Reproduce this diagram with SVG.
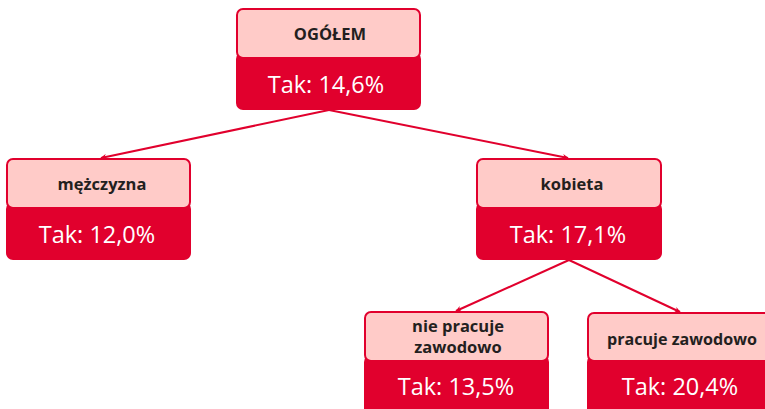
<svg xmlns="http://www.w3.org/2000/svg" width="765" height="409" viewBox="0 0 765 409">
  <style>
    .hd { fill: #ffcbc8; stroke: #e1002d; stroke-width: 2; }
    .val { fill: #e1002d; }
    .lbl { font-family: "Open Sans", "Liberation Sans", sans-serif; font-weight: bold; font-size: 16.5px; fill: #231f20; text-anchor: middle; }
    .pct { font-family: "Open Sans", "Liberation Sans", sans-serif; font-size: 23.5px; fill: #ffffff; text-anchor: middle; }
    .edge { stroke: #e1002d; stroke-width: 2; fill: none; marker-end: url(#arr); }
  </style>
  <defs>
    <marker id="arr" viewBox="0 0 10 10" refX="9" refY="5" markerWidth="6" markerHeight="6" orient="auto" markerUnits="userSpaceOnUse">
      <path d="M0,0 L10,5 L0,10 L3,5 Z" fill="#e1002d"/>
    </marker>
  </defs>

  <g id="connectors">
    <line class="edge" x1="329" y1="110" x2="101" y2="158"/>
    <line class="edge" x1="329" y1="110" x2="568" y2="158"/>
    <line class="edge" x1="569" y1="260" x2="456" y2="311"/>
    <line class="edge" x1="569" y1="260" x2="680" y2="312"/>
  </g>

  <g id="ogolem">
    <rect class="val" x="236" y="52" width="185" height="58" rx="7"/>
    <rect class="hd" x="237" y="9" width="183" height="49" rx="6"/>
    <text class="lbl" x="330" y="40">OGÓŁEM</text>
    <text class="pct" x="326" y="93">Tak: 14,6%</text>
  </g>

  <g id="mezczyzna">
    <rect class="val" x="6" y="202" width="185" height="58" rx="7"/>
    <rect class="hd" x="7" y="159" width="183" height="49" rx="6"/>
    <text class="lbl" x="102" y="190">mężczyzna</text>
    <text class="pct" x="97" y="243">Tak:  12,0%</text>
  </g>

  <g id="kobieta">
    <rect class="val" x="476" y="202" width="186" height="58" rx="7"/>
    <rect class="hd" x="477" y="159" width="184" height="49" rx="6"/>
    <text class="lbl" x="572" y="190">kobieta</text>
    <text class="pct" x="568" y="243">Tak:  17,1%</text>
  </g>

  <g id="nie-pracuje">
    <rect class="val" x="364" y="355" width="185" height="62" rx="7"/>
    <rect class="hd" x="365" y="312" width="183" height="49" rx="6"/>
    <text class="lbl" x="458" y="332">nie pracuje</text>
    <text class="lbl" x="458" y="353">zawodowo</text>
    <text class="pct" x="456" y="395">Tak:  13,5%</text>
  </g>

  <g id="pracuje">
    <rect class="val" x="587" y="355" width="186" height="62" rx="7"/>
    <rect class="hd" x="588" y="313" width="184" height="48" rx="6"/>
    <text class="lbl" x="682" y="345" textLength="150" lengthAdjust="spacingAndGlyphs">pracuje zawodowo</text>
    <text class="pct" x="680" y="395">Tak:  20,4%</text>
  </g>
</svg>
